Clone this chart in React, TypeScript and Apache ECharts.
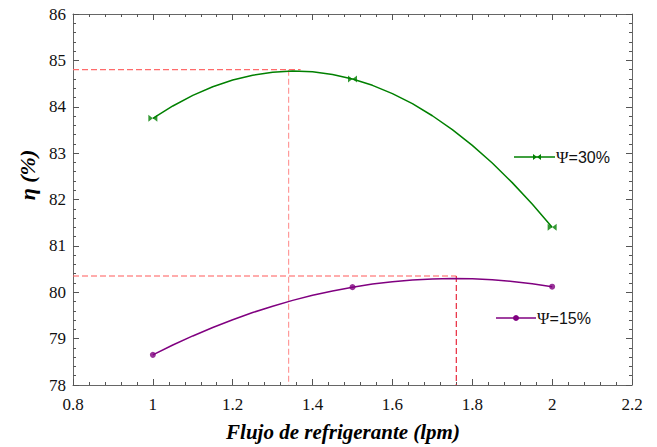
import React, { useEffect, useRef } from "react";
import * as echarts from "echarts";

// Measured points (markers)
const flowMeasured = [1, 1.5, 2];
const eta30Measured = [83.75, 84.6, 81.4];
const eta15Measured = [78.65, 80.11, 80.12];

// Fitted curves
const flowCurve = [1, 1.05, 1.1, 1.15, 1.2, 1.25, 1.3, 1.35, 1.4, 1.45, 1.5, 1.55, 1.6, 1.65, 1.7, 1.75, 1.8, 1.85, 1.9, 1.95, 2];
const eta30Curve = [83.75, 84.017, 84.244, 84.43, 84.576, 84.681, 84.746, 84.77, 84.754, 84.697, 84.6, 84.462, 84.284, 84.066, 83.806, 83.506, 83.166, 82.786, 82.364, 81.902, 81.4];
const eta15Curve = [78.65, 78.862, 79.058, 79.241, 79.408, 79.562, 79.7, 79.825, 79.934, 80.029, 80.11, 80.177, 80.228, 80.265, 80.288, 80.297, 80.29, 80.27, 80.234, 80.184, 80.12];

// Reference (optimum) dashed lines: [flow, eta]
const ref30H = [[0.8, 84.8], [1.37, 84.8]];
const ref30V = [[1.34, 84.8], [1.34, 78]];
const ref15H = [[0.8, 80.35], [1.76, 80.35]];
const ref15V = [[1.76, 80.35], [1.76, 78]];

const legendNames = ["=30%", "=15%"];

const GREEN = "#008000";
const PURPLE = "#800080";
const BOWTIE = "path://M0,0L5,4L0,8Z M10,0L5,4L10,8Z";
const SERIF = "Liberation Serif";
const SANS = "Liberation Sans";

export default function App() {
  const ref = useRef<HTMLDivElement>(null);
  useEffect(() => {
    if (!ref.current) return;
    const chart = echarts.init(ref.current, undefined, { renderer: "svg" });
    const axisLine = { show: true, onZero: false, lineStyle: { color: "#666", width: 1 } };
    const axisTick = { show: true, inside: true, length: 6, lineStyle: { color: "#555" } };
    const minorTick = { show: true, splitNumber: 5, length: 3, lineStyle: { color: "#555" } };
    const dashed = (data: number[][], color: string) => ({
      type: "line",
      data,
      symbol: "none",
      silent: true,
      z: 1,
      lineStyle: { color, width: 1.2, type: [6, 3] },
    });
    const legendText = (x: number, y: number, s: string) => ({
      type: "text",
      x,
      y,
      style: {
        text: "{p|Ψ}{t|" + s + "}",
        textVerticalAlign: "middle",
        rich: {
          p: { fontFamily: SERIF, fontSize: 17, fill: "#111" },
          t: { fontFamily: SANS, fontSize: 16, fill: "#111" },
        },
      },
    });
    const curve = (ys: number[], color: string) => ({
      type: "line",
      data: flowCurve.map((x, i) => [x, ys[i]]),
      smooth: false,
      symbol: "none",
      z: 3,
      lineStyle: { color, width: 1.5, join: "round" },
    });
    chart.setOption({
      animation: false,
      backgroundColor: "#fff",
      grid: { left: 73, right: 25, top: 14, bottom: 62 },
      xAxis: [
        {
          type: "value", min: 0.8, max: 2.2, interval: 0.2, position: "bottom",
          axisLine, axisTick, minorTick, splitLine: { show: false },
          axisLabel: { fontFamily: SERIF, fontSize: 17, color: "#111", margin: 11 },
        },
        {
          type: "value", min: 0.8, max: 2.2, interval: 0.2, position: "top",
          axisLine, axisTick, minorTick, splitLine: { show: false },
          axisLabel: { show: false },
        },
      ],
      yAxis: [
        {
          type: "value", min: 78, max: 86, interval: 1, position: "left",
          axisLine, axisTick, minorTick, splitLine: { show: false },
          axisLabel: { fontFamily: SERIF, fontSize: 17, color: "#111", margin: 7 },
        },
        {
          type: "value", min: 78, max: 86, interval: 1, position: "right",
          axisLine, axisTick, minorTick, splitLine: { show: false },
          axisLabel: { show: false },
        },
      ],
      series: [
        dashed(ref30H, "#ff6b6b"),
        dashed(ref30V, "#ff9a9a"),
        dashed(ref15H, "#ff5a5a"),
        dashed(ref15V, "#e8283c"),
        curve(eta30Curve, GREEN),
        {
          type: "scatter",
          data: flowMeasured.map((x, i) => [x, eta30Measured[i]]),
          symbol: BOWTIE,
          symbolSize: [9, 7],
          z: 4,
          itemStyle: { color: GREEN },
        },
        curve(eta15Curve, PURPLE),
        {
          type: "scatter",
          data: flowMeasured.map((x, i) => [x, eta15Measured[i]]),
          symbol: "circle",
          symbolSize: 6,
          z: 4,
          itemStyle: { color: PURPLE },
        },
      ],
      graphic: [
        // legend Ψ=30%
        { type: "line", shape: { x1: 514, y1: 157, x2: 555, y2: 157 }, style: { stroke: GREEN, lineWidth: 1.5 } },
        { type: "polygon", shape: { points: [[533, 154], [537, 157], [533, 160]] }, style: { fill: GREEN } },
        { type: "polygon", shape: { points: [[541, 154], [537, 157], [541, 160]] }, style: { fill: GREEN } },
        legendText(556, 157, legendNames[0]),
        // legend Ψ=15%
        { type: "line", shape: { x1: 496, y1: 318, x2: 536, y2: 318 }, style: { stroke: PURPLE, lineWidth: 1.5 } },
        { type: "circle", shape: { cx: 516, cy: 318, r: 3 }, style: { fill: PURPLE } },
        legendText(537, 318, legendNames[1]),
        // axis titles
        {
          type: "text",
          x: 343,
          y: 432,
          style: {
            text: "Flujo de refrigerante (lpm)",
            fontFamily: SERIF,
            fontWeight: "bold",
            fontStyle: "italic",
            fontSize: 21,
            fill: "#000",
            textAlign: "center",
            textVerticalAlign: "middle",
          },
        },
        {
          type: "text",
          x: 27,
          y: 175,
          rotation: Math.PI / 2,
          style: {
            text: "η (%)",
            fontFamily: SERIF,
            fontWeight: "bold",
            fontStyle: "italic",
            fontSize: 22,
            fill: "#000",
            textAlign: "center",
            textVerticalAlign: "middle",
          },
        },
      ],
    });
    return () => chart.dispose();
  }, []);
  return <div ref={ref} style={{ width: 657, height: 447, position: "absolute", left: 0, top: 0 }} />;
}
